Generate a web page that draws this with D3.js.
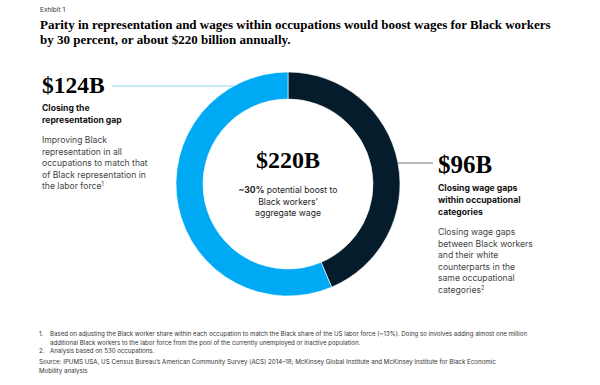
<!DOCTYPE html>
<html>
<head>
<meta charset="utf-8">
<script src="https://cdn.jsdelivr.net/npm/d3@7"></script>
<style>
  body { margin: 0; background: #fff; }
  svg { display: block; }
  .serif { font-family: "Liberation Serif", "DejaVu Serif", serif; font-weight: bold; fill: #000; }
  .sans { font-family: "Inter", "Liberation Sans", sans-serif; }
</style>
</head>
<body>
<svg id="chart" width="600" height="385"></svg>
<script>
// segments of the $220B total, in $ billions (clockwise from 12 o'clock)
const segments = ["wage", "representation"];
const values = [96, 124];
const colors = ["#051c2c", "#00a9f4"];
const lineColors = ["#6b7b86", "#8fd3f5"];

const totalLabel = "$220B";
const centerLines = [["~30%", " potential boost to"], ["", "Black workers’"], ["", "aggregate wage"]];

const bigLabels = ["$96B", "$124B"];
const boldLines = [
  ["Closing wage gaps", "within occupational", "categories"],
  ["Closing the", "representation gap"]
];
const descLines = [
  ["Closing wage gaps", "between Black workers", "and their white", "counterparts in the", "same occupational", "categories"],
  ["Improving Black", "representation in all", "occupations to match that", "of Black representation in", "the labor force"]
];
const descNotes = ["2", "1"];

const footnotes = [
  ["1.", "Based on adjusting the Black worker share within each occupation to match the Black share of the US labor force (~13%). Doing so involves adding almost one million"],
  ["", "additional Black workers to the labor force from the pool of the currently unemployed or inactive population."],
  ["2.", "Analysis based on 530 occupations."]
];
const sourceLines = [
  "Source: IPUMS USA, US Census Bureau’s American Community Survey (ACS) 2014–18; McKinsey Global Institute and McKinsey Institute for Black Economic",
  "Mobility analysis"
];

const svg = d3.select("#chart");

// header
svg.append("text").attr("class", "sans")
  .attr("x", 40).attr("y", 12)
  .style("font-size", "6.5px").style("fill", "#333")
  .text("Exhibit 1");

const title = svg.append("text").attr("class", "serif").style("font-size", "13px");
title.append("tspan").attr("x", 40).attr("y", 29)
  .text("Parity in representation and wages within occupations would boost wages for Black workers");
title.append("tspan").attr("x", 40).attr("y", 44)
  .text("by 30 percent, or about $220 billion annually.");

// donut
const cx = 288, cy = 184, outerR = 112, innerR = 85;
const g = svg.append("g").attr("transform", `translate(${cx},${cy})`);

const pie = d3.pie().sort(null).value(d => d);
const arc = d3.arc().innerRadius(innerR).outerRadius(outerR);

g.selectAll("path")
  .data(pie(values))
  .join("path")
  .attr("d", arc)
  .attr("fill", (d, i) => colors[i])
  .attr("stroke", "#fff")
  .attr("stroke-width", 0.6);

// center label
g.append("text").attr("class", "serif")
  .attr("x", 0).attr("y", -16)
  .attr("text-anchor", "middle")
  .style("font-size", "24px")
  .text(totalLabel);

centerLines.forEach((parts, i) => {
  const t = g.append("text").attr("class", "sans")
    .attr("x", 0).attr("y", 9 + i * 11.5)
    .attr("text-anchor", "middle")
    .style("font-size", "8.6px").style("fill", "#222");
  if (parts[0]) t.append("tspan").style("font-weight", "bold").text(parts[0]);
  t.append("tspan").text(parts[1]);
});

// annotations: label x, label baseline, connector y, side of the ring
const annot = [
  { x: 438, y: 173, lineY: 163, side: 1 },
  { x: 42, y: 93, lineY: 86, side: -1 }
];

annot.forEach((a, i) => {
  const dy = a.lineY - cy;
  const edgeX = cx + a.side * Math.sqrt(outerR * outerR - dy * dy);
  const x1 = a.side > 0 ? edgeX : 112;
  const x2 = a.side > 0 ? 433 : edgeX;
  svg.append("line")
    .attr("x1", x1).attr("x2", x2)
    .attr("y1", a.lineY).attr("y2", a.lineY)
    .attr("stroke", lineColors[i]).attr("stroke-width", 1.2);

  svg.append("text").attr("class", "serif")
    .attr("x", a.x).attr("y", a.y)
    .style("font-size", i === 0 ? "25px" : "23.5px")
    .text(bigLabels[i]);

  boldLines[i].forEach((s, j) => {
    svg.append("text").attr("class", "sans")
      .attr("x", a.x).attr("y", a.y + 17.5 + j * 12)
      .style("font-size", "8.6px").style("font-weight", "bold").style("fill", "#111")
      .text(s);
  });

  const descTop = a.y + 17.5 + (boldLines[i].length - 1) * 12 + 20.5;
  descLines[i].forEach((s, j) => {
    const t = svg.append("text").attr("class", "sans")
      .attr("x", a.x).attr("y", descTop + j * 11.6)
      .style("font-size", "8.6px").style("fill", "#444")
      .text(s);
    if (j === descLines[i].length - 1) {
      t.append("tspan").attr("dy", -3.5).style("font-size", "5.5px").text(descNotes[i]);
    }
  });
});

// footnotes
footnotes.forEach((f, i) => {
  const y = 336 + i * 8.6;
  if (f[0]) {
    svg.append("text").attr("class", "sans")
      .attr("x", 39).attr("y", y)
      .style("font-size", "6.1px").style("fill", "#333")
      .text(f[0]);
  }
  svg.append("text").attr("class", "sans")
    .attr("x", 50).attr("y", y)
    .style("font-size", "6.1px").style("fill", "#333")
    .text(f[1]);
});

sourceLines.forEach((s, i) => {
  svg.append("text").attr("class", "sans")
    .attr("x", 39).attr("y", 364 + i * 8.8)
    .style("font-size", "6.2px").style("fill", "#333")
    .text(s);
});
</script>
</body>
</html>
